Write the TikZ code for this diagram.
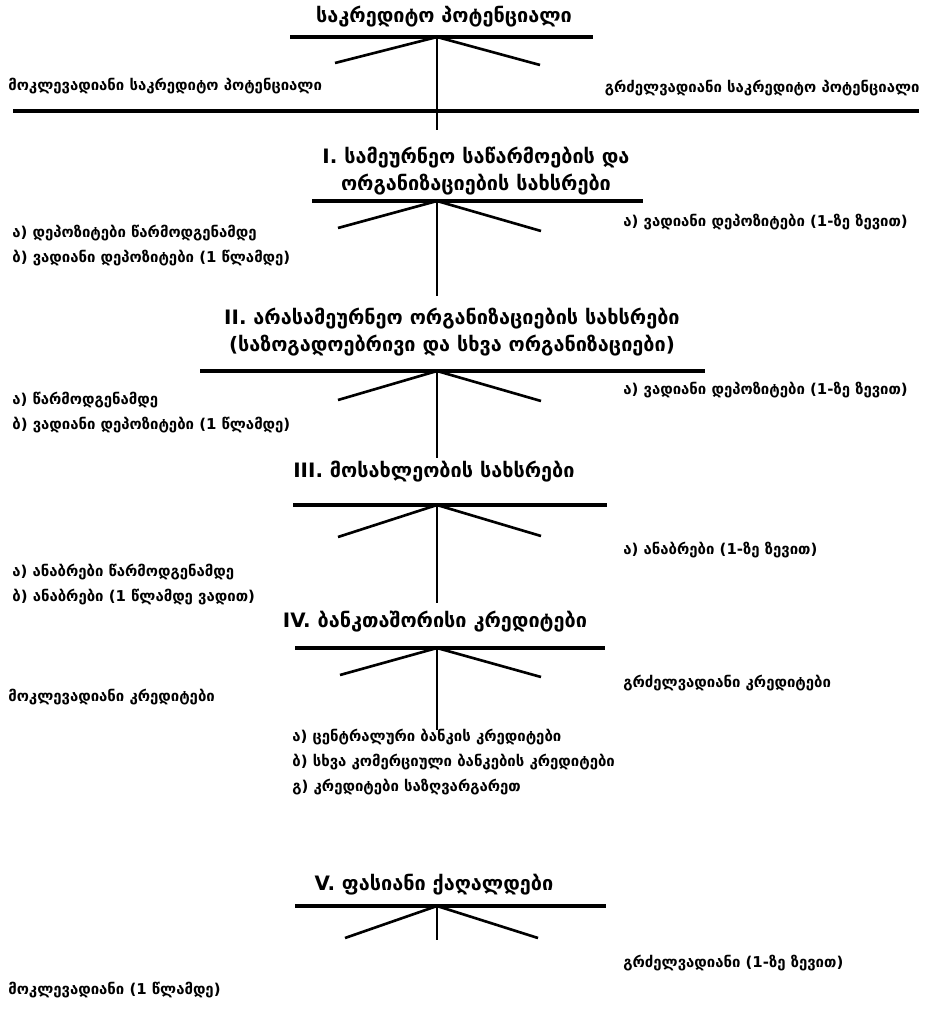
\documentclass[tikz,border=0pt]{standalone}
\usepackage{fontspec}
\setmainfont{DejaVu Sans}
\tikzset{
  bar/.style={line width=2pt},
  ray/.style={line width=1.5pt},
  head/.style={font=\bfseries\fontsize{11.3}{15}\selectfont, align=center},
  item/.style={font=\bfseries\fontsize{8.5}{11}\selectfont, anchor=west, inner sep=0pt},
}

\begin{document}
\begin{tikzpicture}[x=0.02cm,y=-0.02cm]
\useasboundingbox (0,0) rectangle (928,1010);

% credit potential
\node (h0) [head] at (444,17) {საკრედიტო პოტენციალი};
\coordinate (a0) at (290,37); \coordinate (b0) at (593,37);
\coordinate (s0) at (437,37); \coordinate (e0) at (437,130);
\coordinate (l0) at (335,63); \coordinate (r0) at (540,65);
\draw [bar] (a0)--(b0);
\draw [ray] (s0)--(l0); \draw [ray] (s0)--(r0); \draw [ray] (s0)--(e0);
\node (m0) [item] at (8,86) {მოკლევადიანი საკრედიტო პოტენციალი};
\node (g0) [item, anchor=east] at (920,88) {გრძელვადიანი საკრედიტო პოტენციალი};
\coordinate (a) at (13,111); \coordinate (b) at (919,111);
\draw [bar] (a)--(b);

% I
\node (h1) [head] at (476,171) {I. სამეურნეო საწარმოების და\\ორგანიზაციების სახსრები};
\coordinate (a1) at (312,201); \coordinate (b1) at (643,201);
\coordinate (s1) at (437,201); \coordinate (e1) at (437,296);
\coordinate (l1) at (338,228); \coordinate (r1) at (541,231);
\draw [bar] (a1)--(b1);
\draw [ray] (s1)--(l1); \draw [ray] (s1)--(r1); \draw [ray] (s1)--(e1);
\node (m1a) [item] at (12,233) {ა) დეპოზიტები წარმოდგენამდე};
\node (m1b) [item] at (12,258) {ბ) ვადიანი დეპოზიტები (1 წლამდე)};
\node (g1) [item] at (623,222) {ა) ვადიანი დეპოზიტები (1-ზე ზევით)};

% II
\node (h2) [head] at (452,332) {II. არასამეურნეო ორგანიზაციების სახსრები\\(საზოგადოებრივი და სხვა ორგანიზაციები)};
\coordinate (a2) at (200,371); \coordinate (b2) at (705,371);
\coordinate (s2) at (437,371); \coordinate (e2) at (437,458);
\coordinate (l2) at (338,400); \coordinate (r2) at (541,401);
\draw [bar] (a2)--(b2);
\draw [ray] (s2)--(l2); \draw [ray] (s2)--(r2); \draw [ray] (s2)--(e2);
\node (m2a) [item] at (12,400) {ა) წარმოდგენამდე};
\node (m2b) [item] at (12,425) {ბ) ვადიანი დეპოზიტები (1 წლამდე)};
\node (g2) [item] at (623,390) {ა) ვადიანი დეპოზიტები (1-ზე ზევით)};

% III
\node (h3) [head] at (434,472) {III. მოსახლეობის სახსრები};
\coordinate (a3) at (293,505); \coordinate (b3) at (607,505);
\coordinate (s3) at (437,505); \coordinate (e3) at (437,603);
\coordinate (l3) at (338,537); \coordinate (r3) at (541,536);
\draw [bar] (a3)--(b3);
\draw [ray] (s3)--(l3); \draw [ray] (s3)--(r3); \draw [ray] (s3)--(e3);
\node (m3a) [item] at (12,572) {ა) ანაბრები წარმოდგენამდე};
\node (m3b) [item] at (12,597) {ბ) ანაბრები (1 წლამდე ვადით)};
\node (g3) [item] at (623,550) {ა) ანაბრები (1-ზე ზევით)};

% IV
\node (h4) [head] at (435,622) {IV. ბანკთაშორისი კრედიტები};
\coordinate (a4) at (295,648); \coordinate (b4) at (605,648);
\coordinate (s4) at (437,648); \coordinate (e4) at (437,730);
\coordinate (l4) at (340,675); \coordinate (r4) at (541,677);
\draw [bar] (a4)--(b4);
\draw [ray] (s4)--(l4); \draw [ray] (s4)--(r4); \draw [ray] (s4)--(e4);
\node (m4) [item] at (8,697) {მოკლევადიანი კრედიტები};
\node (g4) [item] at (623,683) {გრძელვადიანი კრედიტები};
\node (k4a) [item] at (292,737) {ა) ცენტრალური ბანკის კრედიტები};
\node (k4b) [item] at (292,762) {ბ) სხვა კომერციული ბანკების კრედიტები};
\node (k4c) [item] at (292,787) {გ) კრედიტები საზღვარგარეთ};

% V
\node (h5) [head] at (434,885) {V. ფასიანი ქაღალდები};
\coordinate (a5) at (295,906); \coordinate (b5) at (606,906);
\coordinate (s5) at (437,906); \coordinate (e5) at (437,940);
\coordinate (l5) at (345,938); \coordinate (r5) at (538,938);
\draw [bar] (a5)--(b5);
\draw [ray] (s5)--(l5); \draw [ray] (s5)--(r5); \draw [ray] (s5)--(e5);
\node (m5) [item] at (8,990) {მოკლევადიანი (1 წლამდე)};
\node (g5) [item] at (623,963) {გრძელვადიანი (1-ზე ზევით)};
\end{tikzpicture}
\end{document}
